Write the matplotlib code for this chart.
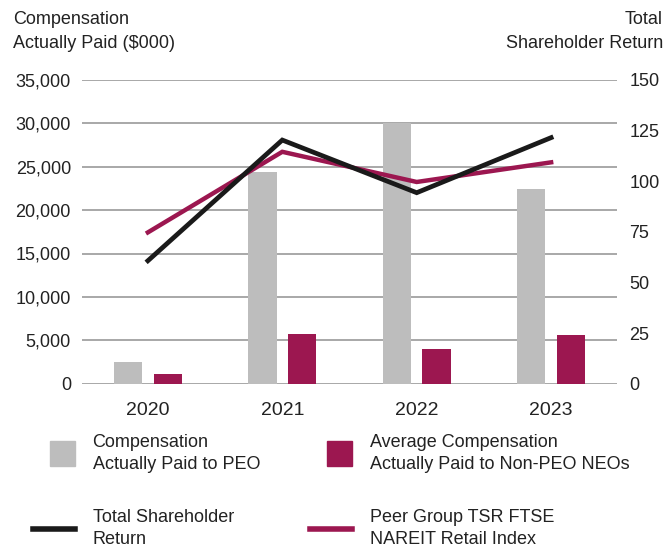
import numpy as np
import matplotlib.pyplot as plt
from matplotlib.patches import Rectangle, Patch
from matplotlib.lines import Line2D
from matplotlib.legend_handler import HandlerPatch
from matplotlib.ticker import FuncFormatter

plt.rcParams.update({'font.family': ['Liberation Sans', 'DejaVu Sans'], 'font.size': 13})

years = ["2020", "2021", "2022", "2023"]
cap_peo = [2550, 24400, 30000, 22400]
cap_neo = [1120, 5750, 3950, 5600]
tsr = [60.7, 120.3, 94.3, 121.5]
peer_tsr = [74.7, 114.5, 99.6, 109.3]

gray = "#bdbdbd"
maroon = "#9c1750"
black = "#1a1a1a"

fig = plt.figure(figsize=(6.65, 5.54), dpi=100)
ax = fig.add_axes([82/665, 1-383.7/554, (617-82)/665, (383.7-79.9)/554])
ax2 = ax.twinx()

x = np.arange(len(years))
w = 0.21
ax.bar(x - 0.148, cap_peo, w, color=gray, zorder=2)
ax.bar(x + 0.148, cap_neo, w, color=maroon, zorder=2)
ax.set_ylim(0, 35000)
ax.set_yticks(np.arange(0, 35001, 5000))
ax.yaxis.set_major_formatter(FuncFormatter(lambda v, p: f"{int(v):,}"))
ax.grid(axis='y', color="#a8a8a8", linewidth=1.4, zorder=0)
ax.set_axisbelow(True)
ax.set_xlim(-0.49, 3.49)
ax.set_xticks(x)
ax.set_xticklabels(years)
ax.tick_params(axis='x', length=0, pad=13, labelsize=14, colors="#222222")
ax.tick_params(axis='y', length=0, pad=8, colors="#222222")

ax2.plot(x, peer_tsr, color=maroon, linewidth=3.2, solid_joinstyle='miter', zorder=3)
ax2.plot(x, tsr, color=black, linewidth=3.4, solid_joinstyle='miter', zorder=4)
ax2.set_ylim(0, 150)
ax2.set_yticks(np.arange(0, 151, 25))
ax2.tick_params(axis='y', length=0, pad=9, colors="#222222")

for a in (ax, ax2):
    for s in a.spines.values():
        s.set_visible(False)

fig.text(13/665, 1-11/554, "Compensation\nActually Paid ($000)", ha='left', va='top',
         fontsize=13, color="#222222", linespacing=1.5)
fig.text(663/665, 1-11/554, "Total\nShareholder Return", ha='right', va='top',
         fontsize=13, color="#222222", linespacing=1.5, multialignment='right')


def square(legend, orig_handle, xdescent, ydescent, width, height, fontsize):
    s = 18
    return Rectangle((-xdescent + width - s, -ydescent + height/2 - s/2), s, s)


h1 = Patch(color=gray)
h2 = Patch(color=maroon)
h3 = Line2D([], [], color=black, linewidth=4)
h4 = Line2D([], [], color=maroon, linewidth=4)

common = dict(frameon=False, handlelength=2.3, handletextpad=1.0, labelspacing=2.04,
              borderpad=0, borderaxespad=0, fontsize=13, loc='upper left',
              handler_map={Patch: HandlerPatch(patch_func=square)})
leg1 = fig.legend([h1, h3], ["Compensation\nActually Paid to PEO", "Total Shareholder\nReturn"],
                  bbox_to_anchor=(33/665, 1-434/554), **common)
leg2 = fig.legend([h2, h4], ["Average Compensation\nActually Paid to Non-PEO NEOs",
                             "Peer Group TSR FTSE\nNAREIT Retail Index"],
                  bbox_to_anchor=(310/665, 1-434/554), **common)
for lg in (leg1, leg2):
    for t in lg.get_texts():
        t.set_color("#222222")
        t.set_linespacing(1.35)

fig.savefig("out.png", dpi=100)
